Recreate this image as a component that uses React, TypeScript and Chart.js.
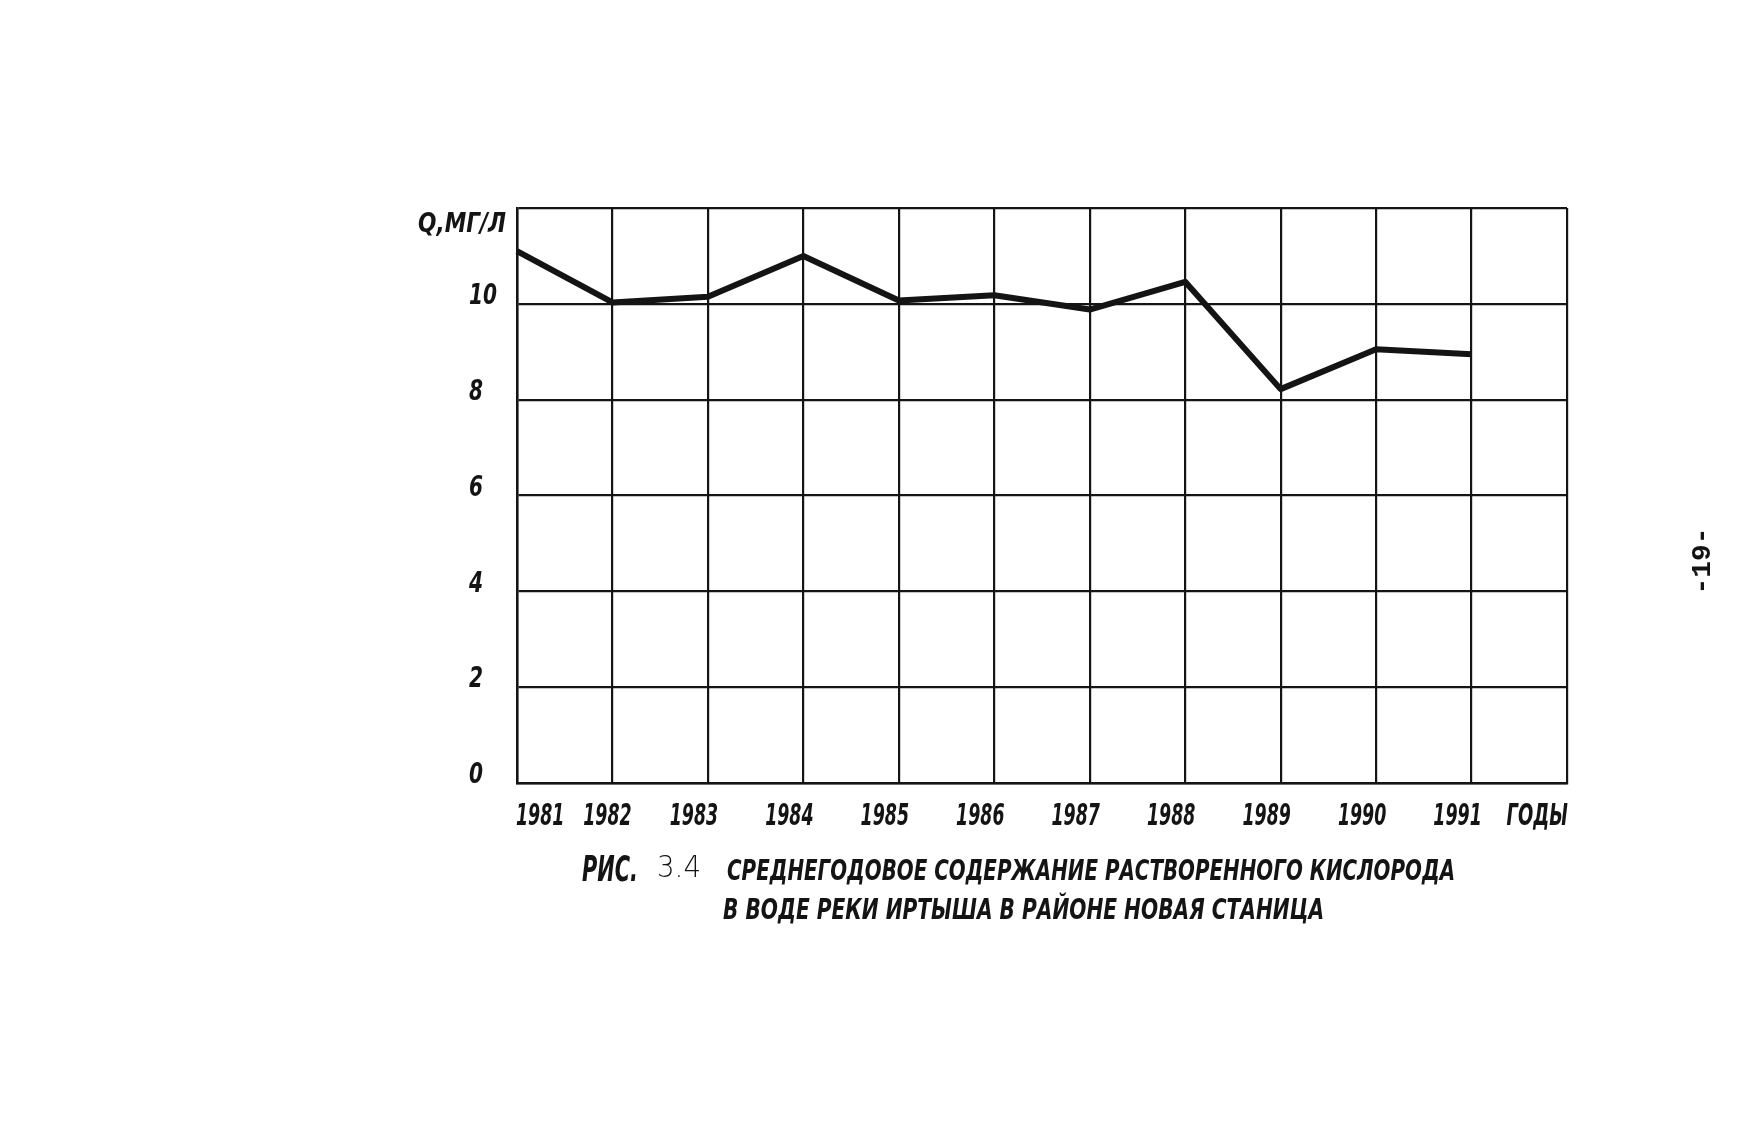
import React, { useEffect, useRef } from 'react';
import { Chart, registerables } from 'chart.js';

Chart.register(...registerables);

// ---- data ----
const years = ['1981', '1982', '1983', '1984', '1985', '1986', '1987', '1988', '1989', '1990', '1991', 'ГОДЫ'];
const oxygen: (number | null)[] = [11.1, 10.03, 10.15, 11.0, 10.07, 10.18, 9.88, 10.46, 8.22, 9.05, 8.95, null];
const yMin = 0;
const yMax = 12;
const yStep = 2;
const yUnitLabel = 'Q,МГ/Л';
const captionPrefix = 'РИС.';
const captionNumber = '3.4';
const captionLine1 = 'СРЕДНЕГОДОВОЕ СОДЕРЖАНИЕ РАСТВОРЕННОГО КИСЛОРОДА';
const captionLine2 = 'В ВОДЕ РЕКИ ИРТЫША В РАЙОНЕ НОВАЯ СТАНИЦА';
const pageNumber = '-19-';

const INK = '#141414';
const FAMILY = "'DejaVu Sans', sans-serif";

function drawScaled(
  ctx: CanvasRenderingContext2D,
  text: string,
  x: number,
  y: number,
  font: string,
  sx: number,
  align: 'left' | 'right' | 'center'
) {
  ctx.save();
  ctx.font = font;
  ctx.translate(x, y);
  ctx.scale(sx, 1);
  ctx.textAlign = align;
  ctx.textBaseline = 'middle';
  ctx.fillText(text, 0, 0);
  ctx.restore();
}

function drawFitted(
  ctx: CanvasRenderingContext2D,
  text: string,
  x: number,
  y: number,
  font: string,
  width: number
) {
  ctx.save();
  ctx.font = font;
  const w = ctx.measureText(text).width;
  ctx.restore();
  drawScaled(ctx, text, x, y, font, width / w, 'left');
}

const textPlugin = {
  id: 'paperText',
  afterDraw(chart: any) {
    const ctx: CanvasRenderingContext2D = chart.ctx;
    const a = chart.chartArea;
    const xs = chart.scales.x;
    const ys = chart.scales.y;
    ctx.save();
    ctx.fillStyle = INK;
    const tickFont = `italic bold 30px ${FAMILY}`;

    // x tick labels (positions from the category scale)
    const n = xs.ticks.length;
    xs.ticks.forEach((t: any, i: number) => {
      const label = String(xs.getLabelForValue(t.value));
      const px = xs.getPixelForTick(i);
      const y = a.bottom + 34;
      if (i === 0) drawScaled(ctx, label, px - 1, y, tickFont, 0.58, 'left');
      else if (i === n - 1) drawScaled(ctx, label, px + 1, y, tickFont, 0.6, 'right');
      else if (i === 1) drawScaled(ctx, label, px - 5, y, tickFont, 0.58, 'center');
      else drawScaled(ctx, label, px - 14, y, tickFont, 0.58, 'center');
    });

    // y tick labels (positions from the linear scale)
    ys.ticks.forEach((t: any) => {
      if (t.value === yMax) return;
      const py = ys.getPixelForValue(t.value);
      drawScaled(ctx, String(t.value), a.left - 48, py - 7, `italic bold 28px ${FAMILY}`, 0.72, 'left');
    });

    // unit label at top of y axis
    drawFitted(ctx, yUnitLabel, a.left - 99, a.top + 17, `italic bold 27px ${FAMILY}`, 88);

    // caption
    drawFitted(ctx, captionPrefix, a.left + 65, a.top + 664, `italic bold 36px ${FAMILY}`, 56);
    drawFitted(ctx, captionNumber, a.left + 140, a.top + 661, `300 30px ${FAMILY}`, 44);
    drawFitted(ctx, captionLine1, a.left + 210, a.top + 664, `italic bold 29px ${FAMILY}`, 728);
    drawFitted(ctx, captionLine2, a.left + 206, a.top + 703, `italic bold 29px ${FAMILY}`, 601);

    // page number, rotated
    ctx.save();
    ctx.translate(a.right + 136, a.top + 353);
    ctx.rotate(-Math.PI / 2);
    ctx.font = "bold 28px 'Liberation Mono', 'DejaVu Sans Mono', monospace";
    ctx.textAlign = 'center';
    ctx.textBaseline = 'middle';
    ctx.fillText(pageNumber, 0, 0);
    ctx.restore();
    ctx.restore();
  },
};

export default function App() {
  const ref = useRef<HTMLCanvasElement | null>(null);

  useEffect(() => {
    if (!ref.current) return;
    const chart = new Chart(ref.current, {
      type: 'line',
      data: {
        labels: years,
        datasets: [
          {
            data: oxygen,
            borderColor: INK,
            borderWidth: 6,
            pointRadius: 0,
            tension: 0,
            borderJoinStyle: 'round',
            borderCapStyle: 'butt',
          },
        ],
      },
      options: {
        animation: false,
        responsive: false,
        devicePixelRatio: 1,
        layout: { padding: { left: 407, right: 178, top: 208, bottom: 288 } },
        plugins: {
          legend: { display: false },
          tooltip: { enabled: false },
          title: { display: false },
        },
        scales: {
          x: {
            type: 'category',
            offset: false,
            afterFit: (s: any) => {
              s.height = 50;
            },
            grid: { color: INK, lineWidth: 2.2, drawTicks: false },
            border: { display: true, color: INK, width: 2.5 },
            ticks: { display: false, autoSkip: false, maxRotation: 0 },
          },
          y: {
            min: yMin,
            max: yMax,
            afterFit: (s: any) => {
              s.width = 110;
            },
            grid: { color: INK, lineWidth: 2.2, drawTicks: false },
            border: { display: true, color: INK, width: 2.5 },
            ticks: { display: false, stepSize: yStep },
          },
        },
      },
      plugins: [textPlugin],
    });
    return () => chart.destroy();
  }, []);

  return (
    <div style={{ position: 'absolute', left: 0, top: 0, width: 1745, height: 1121, background: '#fff' }}>
      <canvas ref={ref} width={1745} height={1121} />
    </div>
  );
}
